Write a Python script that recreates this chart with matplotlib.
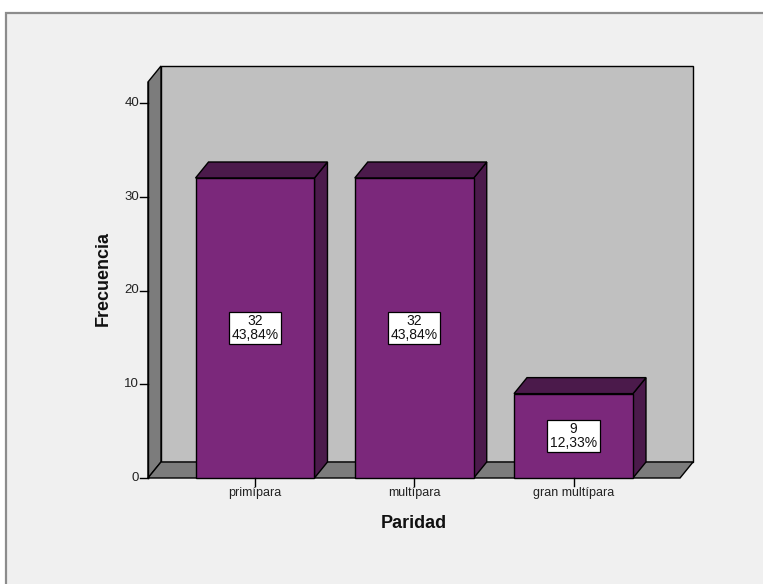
import matplotlib
matplotlib.use("Agg")
import matplotlib.pyplot as plt
from matplotlib.patches import Polygon, Rectangle

# ---- data ----
categories = ["primípara", "multípara", "gran multípara"]
frequencies = [32, 32, 9]
percent_labels = ["43,84%", "43,84%", "12,33%"]
y_ticks = [0, 10, 20, 30, 40]
x_title = "Paridad"
y_title = "Frecuencia"

# ---- figure and layout ----
W, H, DPI = 763, 584, 100
FONT = ["Liberation Sans", "DejaVu Sans"]
plt.rcParams["font.family"] = FONT

fig = plt.figure(figsize=(W / DPI, H / DPI), dpi=DPI, facecolor="white")

# framed panel behind the chart
fig.patches.append(Rectangle((6 / W, -0.1), 1.1, 1.1 - 13 / H,
                             transform=fig.transFigure, facecolor="#F0F0F0",
                             edgecolor="#8C8C8C", lw=1.6, zorder=-5))

# pixel scale of the front plane
cat_px = 159.25          # pixels between category centers
first_center_px = 255.0
unit_px = 9.375          # pixels per frequency unit
zero_py = 478.0          # pixel row of the zero line

ax = fig.add_axes([0, 0, 1, 1])
ax.set_zorder(1)
ax.set_xlim(-first_center_px / cat_px, (W - first_center_px) / cat_px)
ax.set_ylim(-(H - zero_py) / unit_px, zero_py / unit_px)
ax.axis("off")
ax.patch.set_visible(False)

# 3-D depth offset (in data units)
dx = 13 / cat_px
dy = 16 / unit_px

x_left, x_right = -0.672, 2.669
wall_top = 42.24
bar_w = 0.747

wall_back = "#C0C0C0"
wall_side = "#7C7C7C"
bar_front = "#7B287B"
bar_dark = "#4B1A4B"
edge = "#000000"
lw = 1.0

# back wall
ax.add_patch(Polygon([(x_left + dx, dy), (x_right + dx, dy),
                      (x_right + dx, wall_top + dy), (x_left + dx, wall_top + dy)],
                     closed=True, facecolor=wall_back, edgecolor=edge, lw=lw, zorder=1))
# left wall
ax.add_patch(Polygon([(x_left, 0), (x_left + dx, dy), (x_left + dx, wall_top + dy),
                      (x_left, wall_top)],
                     closed=True, facecolor=wall_side, edgecolor=edge, lw=lw, zorder=1))
# floor
ax.add_patch(Polygon([(x_left, 0), (x_right, 0), (x_right + dx, dy), (x_left + dx, dy)],
                     closed=True, facecolor=wall_side, edgecolor=edge, lw=lw, zorder=1))

# bars
for i, (f, pct) in enumerate(zip(frequencies, percent_labels)):
    x0, x1 = i - bar_w / 2, i + bar_w / 2
    ax.add_patch(Polygon([(x1, 0), (x1 + dx, dy), (x1 + dx, f + dy), (x1, f)],
                         closed=True, facecolor=bar_dark, edgecolor=edge, lw=lw, zorder=2))
    ax.add_patch(Polygon([(x0, f), (x1, f), (x1 + dx, f + dy), (x0 + dx, f + dy)],
                         closed=True, facecolor=bar_dark, edgecolor=edge, lw=lw, zorder=2))
    ax.add_patch(Rectangle((x0, 0), bar_w, f, facecolor=bar_front,
                           edgecolor=edge, lw=lw, zorder=3))
    ax.text(i, f / 2, f"{f}\n{pct}", ha="center", va="center", fontsize=10,
            linespacing=0.95, color="#111111", zorder=5,
            bbox=dict(boxstyle="square,pad=0.18", facecolor="white",
                      edgecolor=edge, lw=0.9))

# y axis line, ticks and labels
tick_x = 8 / cat_px
ax.plot([x_left, x_left], [0, wall_top], color=edge, lw=lw, zorder=4)
for t in y_ticks:
    ax.plot([x_left - tick_x, x_left], [t, t], color=edge, lw=lw, zorder=4)
    ax.text(x_left - tick_x - 1 / cat_px, t, str(t), ha="right", va="center",
            fontsize=9.5, color="#222222")

# x ticks and labels
tick_y = 8 / unit_px
for i, c in enumerate(categories):
    ax.plot([i, i], [0, -tick_y], color=edge, lw=lw, zorder=4)
    ax.text(i, -tick_y - 1 / unit_px, c, ha="center", va="top",
            fontsize=9, color="#222222")

# axis titles
ax.text(1, -(524 - zero_py) / unit_px, x_title, ha="center", va="center",
        fontsize=13, fontweight="bold", color="#111111")
ax.text((103 - first_center_px) / cat_px, (zero_py - 279) / unit_px, y_title,
        ha="center", va="center", rotation=90, fontsize=13,
        fontweight="bold", color="#111111")

fig.savefig("out.png", dpi=DPI, facecolor=fig.get_facecolor())
